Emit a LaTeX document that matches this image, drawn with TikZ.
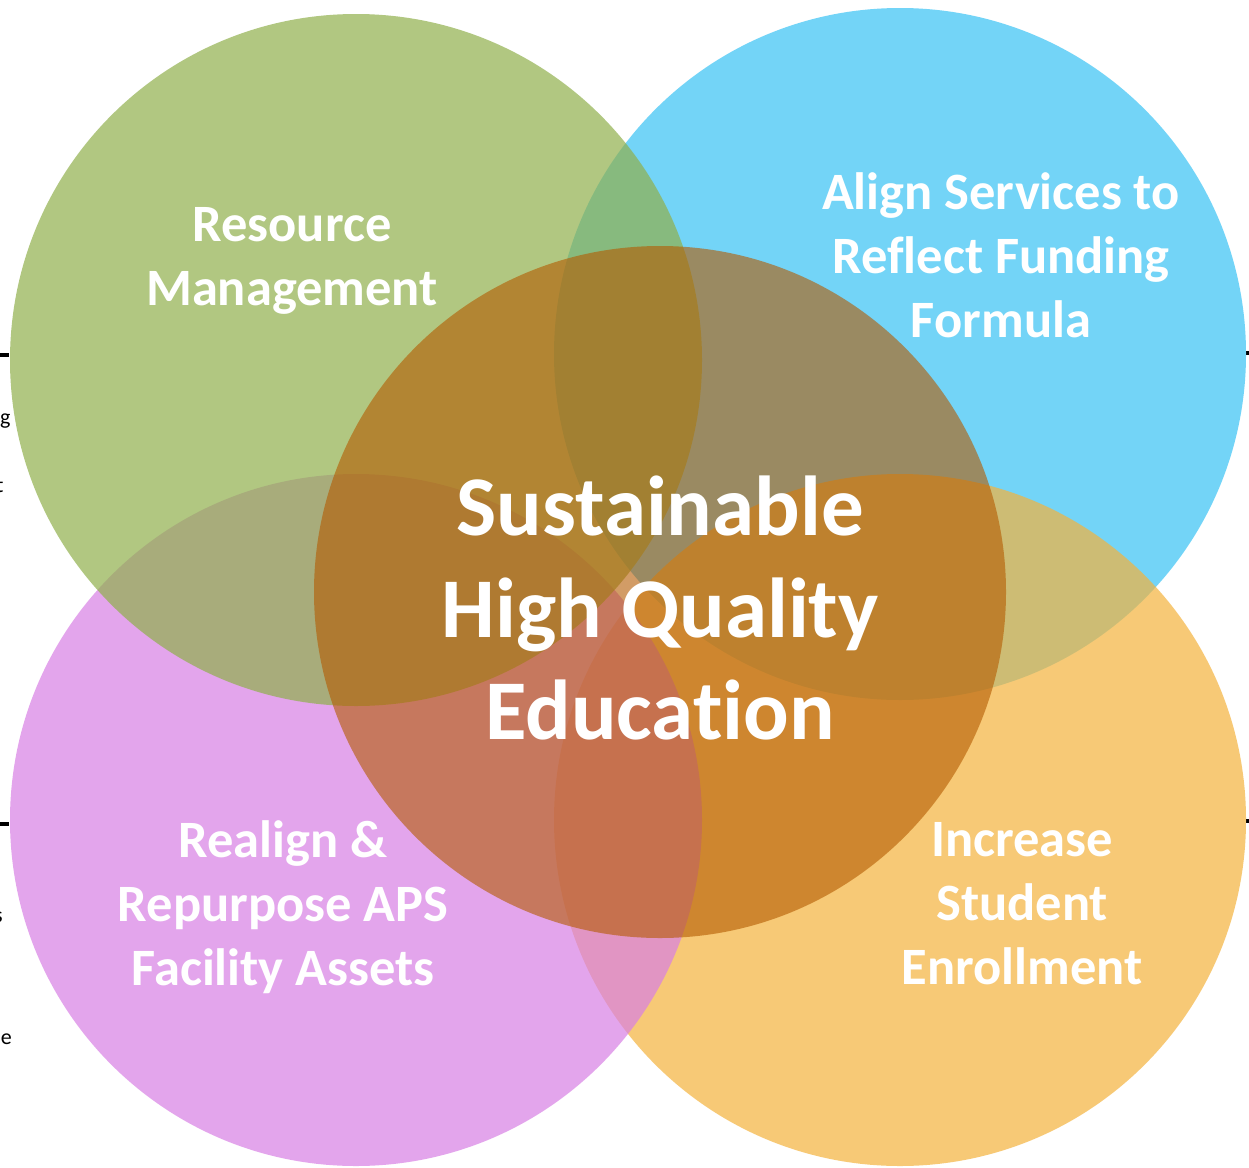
\documentclass[tikz,border=0pt]{standalone}
\usepackage{fontspec}
\setmainfont[Ligatures=NoCommon]{Carlito}
\usetikzlibrary{positioning}

\definecolor{resgreen}{RGB}{144,176,76}
\definecolor{fundblue}{RGB}{56,194,245}
\definecolor{assetpink}{RGB}{216,128,228}
\definecolor{enrolorange}{RGB}{244,179,61}
\definecolor{corebrown}{RGB}{180,90,0}

\begin{document}
\begin{tikzpicture}[x=1pt, y=-1pt, every node/.style={font=\bfseries\fontsize{52.5}{64}\selectfont, text=white, align=center, inner sep=0pt},
    venn/.style={fill opacity=.7}, core/.style={fill opacity=.6},
    scrap/.style={font=\fontsize{22}{26}\selectfont, text=black}]
    \useasboundingbox (0,0) rectangle (1249,1167);
    \fill[white] (0,0) rectangle (1249,1167);

    % edge marks and scraps of text behind the picture
    \draw[line width=4pt] (0,355) -- (9,355);
    \draw[line width=4pt] (0,824) -- (9,824);
    \draw[line width=4pt] (1246,353) -- (1249,353);
    \draw[line width=4pt] (1246,821) -- (1249,821);
    \node[scrap, anchor=base west] (g) at (0,424) {g};
    \node[scrap, anchor=base west] (t) at (-4,492) {t};
    \node[scrap, anchor=base east] (s) at (3,922) {s};
    \node[scrap, anchor=base east] (e) at (12,1044) {e};

    % the five circles
    \fill[fundblue, venn] (900,354) circle[radius=346pt];
    \fill[enrolorange, venn] (900,820) circle[radius=346pt];
    \fill[assetpink, venn] (356,820) circle[radius=346pt];
    \fill[resgreen, venn] (356,360) circle[radius=346pt];
    \fill[corebrown, core] (660,592) circle[radius=346pt];

    \node (res) at (292,261) {Resource\\Management};
    \node (fund) at (1001,255) {Align Services to\\Reflect Funding\\Formula};
    \node (asset) at (283,907) {Realign \&\\Repurpose APS\\Facility Assets};
    \node (enrol) at (1022,904) {Increase\\Student\\Enrollment};
    \node[font=\bfseries\fontsize{85}{102}\selectfont] (core) at (660,608) {Sustainable\\High Quality\\Education};
\end{tikzpicture}
\end{document}
